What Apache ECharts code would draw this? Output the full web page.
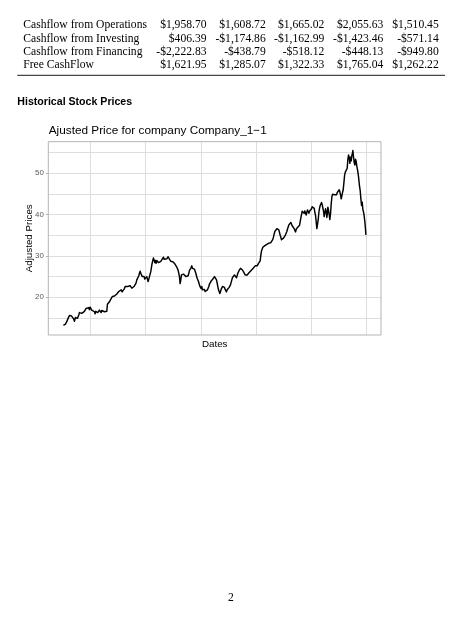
<!DOCTYPE html>
<html>
<head>
<meta charset="utf-8">
<script src="https://cdn.jsdelivr.net/npm/echarts@6/dist/echarts.min.js"></script>
<style>
html,body{margin:0;padding:0;background:#fff;}
#c{width:467px;height:620px;}
</style>
</head>
<body>
<div id="c"></div>
<script>
// ---------- table data ----------
const rowLabels = ['Cashflow from Operations', 'Cashflow from Investing', 'Cashflow from Financing', 'Free CashFlow'];
const cashOps = [1958.70, 1608.72, 1665.02, 2055.63, 1510.45];
const cashInv = [406.39, -1174.86, -1162.99, -1423.46, -571.14];
const cashFin = [-2222.83, -438.79, -518.12, -448.13, -949.80];
const freeCF  = [1621.95, 1285.07, 1322.33, 1765.04, 1262.22];

// ---------- chart text ----------
const sectionTitle = 'Historical Stock Prices';
const chartTitle = 'Ajusted Price for company Company_1\u22121';
const yAxisTitle = 'Adjusted Prices';
const xAxisTitle = 'Dates';
const pageNumber = '2';

// ---------- axis ticks ----------
const yTickValues = [20, 30, 40, 50];
const yearGridIdx = [81, 246.6, 412.2, 577.8, 743.4, 909];   // year boundaries (trading-day index)

// ---------- price series ----------
const tradingDay = [
  0,3,6,10,14,18,21,24,28,31,
  33,36,40,42,46,48,52,55,58,60,
  63,65,68,70,73,76,78,80,83,85,
  88,90,93,95,97,100,103,105,108,110,
  113,115,118,120,123,125,128,130,132,135,
  138,141,144,147,150,153,155,158,160,163,
  166,168,171,173,176,178,180,183,185,188,
  190,193,195,198,200,203,205,207,210,212,
  215,218,220,223,226,228,230,232,234,236,
  238,240,242,244,246,248,250,252,254,256,
  258,260,262,265,268,270,272,274,276,278,
  280,282,285,287,289,292,295,297,300,302,
  305,307,310,312,314,316,318,320,322,325,
  328,331,334,336,338,340,342,344,346,348,
  350,352,354,356,358,360,363,365,367,370,
  372,374,376,378,380,382,385,387,389,391,
  393,395,397,399,401,403,405,407,409,411,
  413,415,417,419,421,423,425,427,430,432,
  434,436,438,440,442,445,448,450,453,455,
  457,459,461,463,465,467,469,471,473,475,
  477,479,481,483,485,487,489,491,493,495,
  497,499,501,503,505,507,509,511,513,515,
  517,519,521,523,525,527,529,531,533,535,
  537,539,541,543,545,547,549,551,553,555,
  557,559,561,563,565,567,569,571,573,575,
  577,579,581,583,585,588,590,592,594,596,
  598,600,602,604,606,608,610,612,614,616,
  618,620,622,624,626,628,630,632,634,636,
  638,640,642,644,646,648,650,652,654,656,
  658,660,662,664,666,668,670,672,674,676,
  678,680,682,684,686,688,690,692,694,696,
  698,700,702,704,706,708,710,712,714,716,
  718,720,722,724,726,728,730,732,734,736,
  738,740,742,744,746,748,750,752,754,756,
  758,760,762,764,766,768,770,772,774,776,
  778,780,782,784,786,788,790,792,793,795,
  797,799,801,803,805,807,809,811,813,815,
  817,819,821,823,825,827,829,831,833,835,
  837,839,841,843,845,847,849,851,853,855,
  857,859,861,863,865,867,868,870,872,874,
  876,878,880,882,884,886,888,890,892,894,
  896,898,900,902,904,906,907
];
const adjPrice = [
  13.2,13.0,13.5,14.1,14.9,15.6,15.3,15.5,15.6,14.7,
  14.2,15.1,15.3,14.9,15.7,16.3,16.0,16.1,16.5,16.3,
  16.6,16.8,17.3,17.7,17.3,17.5,17.0,17.6,17.2,16.9,
  17.3,17.1,16.5,16.0,16.6,16.8,16.3,16.5,16.9,16.7,
  16.3,16.8,16.9,17.1,16.5,16.6,16.2,16.6,18.3,18.7,
  18.9,19.4,19.5,20.2,20.6,20.3,20.2,20.6,20.8,21.1,
  21.4,21.0,21.5,21.8,21.3,21.6,21.4,22.1,22.6,22.7,
  22.4,22.6,22.3,22.7,22.8,22.4,22.2,22.6,21.8,22.6,
  22.9,23.5,24.2,24.6,25.2,25.8,26.3,25.8,25.4,25.0,
  24.7,25.4,25.0,24.4,24.1,24.8,25.0,24.4,23.8,24.4,
  25.0,25.6,26.2,27.8,28.9,29.5,29.0,28.4,28.9,28.2,
  28.9,29.0,28.4,28.1,28.7,28.7,28.4,28.9,29.7,29.2,
  29.0,29.4,29.3,29.7,29.8,29.4,29.2,28.9,28.7,28.9,
  28.6,28.4,28.1,28.2,27.8,27.3,27.0,26.5,25.8,25.0,
  23.3,24.2,25.4,25.8,25.0,25.6,26.0,25.4,25.0,24.8,
  25.4,25.2,25.8,26.5,26.2,27.0,27.6,27.0,27.3,26.6,
  26.8,26.4,25.8,25.2,24.6,24.8,23.8,23.4,22.7,22.4,
  22.1,22.6,21.8,21.4,21.6,21.9,21.4,21.8,21.4,21.8,
  22.2,22.6,23.2,23.4,23.8,24.2,24.4,24.8,25.0,25.4,
  24.8,24.2,23.5,22.6,21.8,21.4,20.9,21.4,21.9,22.2,
  22.6,22.2,22.7,22.4,21.9,21.6,21.3,21.8,21.9,22.2,
  22.4,22.6,23.0,23.4,24.2,24.8,25.0,25.2,25.4,25.0,
  25.2,24.7,24.6,25.8,26.2,26.5,26.8,27.0,27.2,27.0,
  26.6,26.2,26.0,25.8,25.4,25.6,25.0,25.4,25.8,25.5,
  26.0,25.8,26.2,26.5,26.6,26.8,27.0,27.3,27.4,27.6,
  27.5,27.8,27.6,28.0,28.2,28.5,28.8,30.2,31.2,31.6,
  32.1,32.3,32.1,32.5,32.6,32.4,32.8,32.9,32.7,33.1,
  32.9,33.4,33.2,33.5,33.3,34.0,34.6,35.3,35.9,36.3,
  36.0,36.6,36.2,36.7,36.3,36.0,35.0,34.5,33.9,34.2,
  33.7,34.3,34.7,34.5,35.1,35.4,35.9,36.5,37.0,37.5,
  37.8,37.6,38.1,37.8,37.3,37.5,37.1,36.6,36.2,35.8,
  36.4,36.5,36.9,36.7,37.0,37.4,38.3,39.2,40.0,40.8,
  41.1,40.6,40.3,40.9,40.5,39.9,40.6,41.1,40.7,40.3,
  40.8,40.5,41.1,41.4,41.9,41.6,41.8,41.5,40.6,39.8,
  38.3,36.6,36.9,38.7,40.5,41.5,42.2,42.6,42.9,42.4,
  42.0,40.8,39.5,40.4,41.4,40.8,39.3,40.6,41.8,41.0,
  40.0,38.8,40.2,42.5,44.3,44.9,45.1,44.5,44.8,44.4,
  45.2,44.8,45.3,45.0,45.6,46.0,45.5,44.8,43.8,44.5,
  45.3,46.0,47.6,49.4,50.2,50.0,50.6,51.2,53.4,54.4,
  53.8,52.4,53.9,53.0,54.3,55.0,55.5,53.9,52.6,52.0,
  53.4,52.8,51.6,50.8,49.8,48.4,46.8,45.8,43.8,42.2,
  43.0,41.2,40.6,39.6,38.2,36.4,35.1
];

// ---------- helpers ----------
function fmtMoney(v) {
  return (v < 0 ? '-' : '') + '$' + Math.abs(v).toLocaleString('en-US', {minimumFractionDigits: 2, maximumFractionDigits: 2});
}
// ggplot-like 5% expansion of the scales
const xLo = Math.min(...tradingDay), xHi = Math.max(...tradingDay);
const yLo = Math.min(...adjPrice), yHi = Math.max(...adjPrice);
const xMin = xLo - 0.05 * (xHi - xLo), xMax = xHi + 0.05 * (xHi - xLo);
const yMin = yLo - 0.05 * (yHi - yLo), yMax = yHi + 0.05 * (yHi - yLo);

// ---------- page graphics (table, headings) ----------
const serif = 'Liberation Serif';
const sans = 'Liberation Sans';
const tableRows = [cashOps, cashInv, cashFin, freeCF];
const rowMid = [25.3, 38.7, 52.0, 65.3];
const colRight = [206.5, 265.7, 324.3, 383.3, 438.7];
const graphics = [];
rowLabels.forEach((lab, r) => {
  graphics.push({type: 'text', x: 23.3, y: rowMid[r], silent: true,
    style: {text: lab, fontFamily: serif, fontSize: 11.6, fill: '#000', align: 'left', verticalAlign: 'middle'}});
  tableRows[r].forEach((v, c) => {
    graphics.push({type: 'text', x: colRight[c], y: rowMid[r], silent: true,
      style: {text: fmtMoney(v), fontFamily: serif, fontSize: 11.6, fill: '#000', align: 'right', verticalAlign: 'middle'}});
  });
});
graphics.push({type: 'line', silent: true, shape: {x1: 17.3, y1: 75.3, x2: 445, y2: 75.3}, style: {stroke: '#000', lineWidth: 0.9}});
graphics.push({type: 'text', x: 17.3, y: 102.4, silent: true,
  style: {text: sectionTitle, fontFamily: sans, fontWeight: 'bold', fontSize: 10.6, fill: '#000', align: 'left', verticalAlign: 'middle'}});
graphics.push({type: 'text', x: 48.7, y: 131.2, silent: true,
  style: {text: chartTitle, fontFamily: sans, fontSize: 11.8, fill: '#000', align: 'left', verticalAlign: 'middle'}});
graphics.push({type: 'text', x: 29.2, y: 238.3, rotation: Math.PI / 2, silent: true,
  style: {text: yAxisTitle, fontFamily: sans, fontSize: 9.8, fill: '#000', align: 'center', verticalAlign: 'middle'}});
graphics.push({type: 'text', x: 214.7, y: 344.3, silent: true,
  style: {text: xAxisTitle, fontFamily: sans, fontSize: 9.8, fill: '#000', align: 'center', verticalAlign: 'middle'}});
graphics.push({type: 'text', x: 231, y: 598, silent: true,
  style: {text: pageNumber, fontFamily: serif, fontSize: 11.6, fill: '#000', align: 'center', verticalAlign: 'middle'}});

const chart = echarts.init(document.getElementById('c'), null, {renderer: 'canvas'});
chart.setOption({
  animation: false,
  backgroundColor: '#ffffff',
  textStyle: {fontFamily: sans},
  grid: {left: 48.3, top: 141.7, width: 332.7, height: 193.3, show: true,
         borderColor: '#b3b3b3', borderWidth: 1, backgroundColor: 'transparent', z: 5},
  xAxis: {type: 'value', min: xMin, max: xMax,
          axisLine: {show: false}, axisTick: {show: false}, axisLabel: {show: false}, splitLine: {show: false}},
  yAxis: [
    {type: 'value', min: yMin, max: yMax, splitNumber: 10,
     axisLine: {show: false}, axisTick: {show: false}, axisLabel: {show: false},
     splitLine: {show: true, showMinLine: false, showMaxLine: false, lineStyle: {color: '#dedede', width: 1}}},
    {type: 'value', min: yMin, max: yMax, position: 'left',
     axisLine: {show: false},
     axisTick: {show: true, length: 2.5, customValues: yTickValues, lineStyle: {color: '#b3b3b3', width: 1}},
     axisLabel: {show: true, customValues: yTickValues, fontSize: 7.9, color: '#5a5a5a', margin: 4.5, fontFamily: sans},
     splitLine: {show: false}}
  ],
  series: [{
    type: 'line', xAxisIndex: 0, yAxisIndex: 0, silent: true,
    data: tradingDay.map((d, i) => [d, adjPrice[i]]),
    showSymbol: false, symbol: 'none',
    lineStyle: {color: '#000000', width: 1.45, join: 'round'}, z: 3,
    markLine: {silent: true, symbol: ['none', 'none'], z: 1, animation: false,
      label: {show: false}, emphasis: {disabled: true},
      lineStyle: {color: '#dedede', width: 1, type: 'solid'},
      data: yearGridIdx.map(v => ({xAxis: v}))}
  }],
  graphic: graphics
});
</script>
</body>
</html>
